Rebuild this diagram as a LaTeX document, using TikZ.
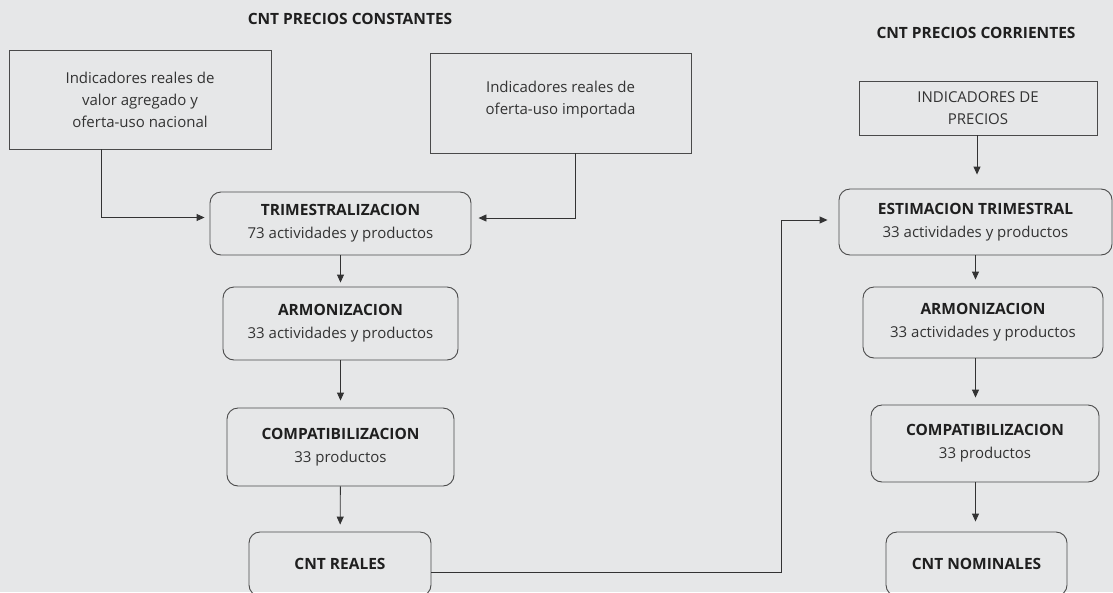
\documentclass[tikz,border=0pt]{standalone}
\usepackage{fontspec}
\setmainfont{Open Sans}
\usepackage{xcolor}
\usetikzlibrary{positioning,calc,arrows.meta}
\definecolor{fondo}{HTML}{E6E7E8}
\definecolor{linea}{HTML}{4A4A4A}
\definecolor{texto}{HTML}{333333}
\tikzset{
  ibox/.style={draw=linea, line width=0.9pt, rectangle, align=center, text=texto,
    font=\fontsize{15}{22}\selectfont, inner sep=0pt},
  pbox/.style={draw=linea, line width=0.9pt, rectangle, rounded corners=11pt, align=center,
    text=texto, font=\fontsize{15}{23}\selectfont, inner sep=0pt},
  titulo/.style={font=\fontsize{15.5}{18}\selectfont\bfseries, text=black!88},
  flecha/.style={draw=black!80, line width=0.9pt, -{Triangle[length=8pt,width=7pt]}, shorten >=7pt}
}
\newcommand{\enc}[1]{{\fontsize{15.5}{23}\selectfont\bfseries\color{black!88}#1}}
\begin{document}
\begin{tikzpicture}[x=1pt,y=-1pt]
    % Fondo
    \fill[fondo] (0,0) rectangle (1113,592);
    \useasboundingbox (0,0) rectangle (1113,592);

    % Titulos
    \node[titulo] (tconst) at (350,19) {CNT PRECIOS CONSTANTES};
    \node[titulo] (tcorr) at (976,33) {CNT PRECIOS CORRIENTES};

    % Precios constantes
    \node[ibox, minimum width=262, minimum height=99] (indnac) at (140,99.5)
        {Indicadores reales de\\valor agregado y\\oferta-uso nacional};
    \node[ibox, minimum width=261, minimum height=100] (indimp) at (560.5,103)
        {Indicadores reales de\\oferta-uso importada\\[-11pt]\mbox{}};
    \node[pbox, minimum width=261, minimum height=63] (trim) at (340.5,223.5)
        {\enc{TRIMESTRALIZACION}\\73 actividades y productos};
    \node[pbox, minimum width=235, minimum height=73] (armr) at (340.5,323.5)
        {\enc{ARMONIZACION}\\33 actividades y productos};
    \node[pbox, minimum width=227, minimum height=78] (compr) at (340.5,447)
        {\enc{COMPATIBILIZACION}\\33 productos};
    \node[pbox, minimum width=182, minimum height=64] (cntr) at (340,564)
        {\enc{CNT REALES}};

    % Precios corrientes
    \node[ibox, minimum width=238, minimum height=54] (indpre) at (978,108)
        {INDICADORES DE\\PRECIOS};
    \node[pbox, minimum width=273, minimum height=66] (est) at (975.5,222)
        {\enc{ESTIMACION TRIMESTRAL}\\33 actividades y productos};
    \node[pbox, minimum width=240, minimum height=71] (armn) at (983,322.5)
        {\enc{ARMONIZACION}\\33 actividades y productos};
    \node[pbox, minimum width=228, minimum height=77] (compn) at (985,443.5)
        {\enc{COMPATIBILIZACION}\\33 productos};
    \node[pbox, minimum width=181, minimum height=64] (cntn) at (976.5,564)
        {\enc{CNT NOMINALES}};

    % Conectores
    \draw[flecha, shorten >=5pt] ([xshift=-39]indnac.south) |- ([yshift=6]trim.west);
    \draw[flecha] ([xshift=14.5]indimp.south) |- ([yshift=5.5]trim.east);
    \draw[flecha, shorten >=4pt] (trim) -- (armr);
    \draw[flecha] (armr) -- (compr);
    \draw[flecha] (compr) -- (cntr);
    \coordinate (giro) at (781,220);
    \draw[flecha, shorten >=11pt] ([yshift=-8]cntr.east) -| (giro) -- (giro -| est.west);
    \draw[flecha, shorten >=14pt] ([xshift=-1]indpre.south) -- ([xshift=-1]indpre.south |- est.north);
    \draw[flecha] (est.south) -- (est.south |- armn.north);
    \draw[flecha] (est.south |- armn.south) -- (est.south |- compn.north);
    \draw[flecha, shorten >=10pt] (est.south |- compn.south) -- (est.south |- cntn.north);
\end{tikzpicture}
\end{document}
